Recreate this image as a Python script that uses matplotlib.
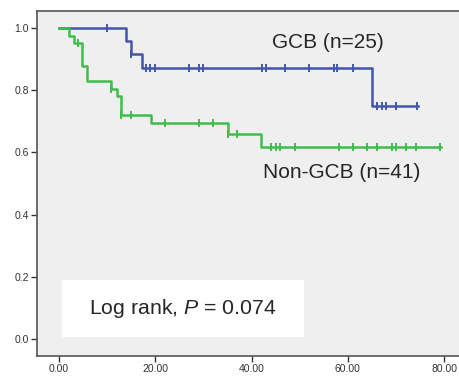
import numpy as np
import matplotlib.pyplot as plt
from matplotlib.patches import Rectangle

plt.rcParams['font.family'] = ['Liberation Sans', 'DejaVu Sans']
plt.rcParams['mathtext.fontset'] = 'custom'
plt.rcParams['mathtext.it'] = 'Liberation Sans:italic'
plt.rcParams['mathtext.rm'] = 'Liberation Sans'

# step curves (time, survival after the step)
gcb_times = [0.0, 13.9, 14.9, 17.2, 65.1, 74.5]
gcb_surv = [1.0, 0.958, 0.917, 0.873, 0.748, 0.748]
gcb_censor = [9.9, 14.9, 18.0, 19.0, 19.9, 27.0, 29.1, 29.9, 42.2, 42.9,
              47.0, 52.0, 57.2, 57.8, 61.1, 66.0, 67.0, 68.0, 70.0, 74.3]

ngcb_times = [0.0, 2.1, 3.1, 4.8, 5.9, 10.9, 12.0, 12.8, 19.1, 35.0, 42.0, 79.3]
ngcb_surv = [1.0, 0.975, 0.951, 0.878, 0.829, 0.805, 0.780, 0.722, 0.695,
             0.658, 0.618, 0.618]
ngcb_censor = [4.0, 10.9, 12.9, 15.0, 22.0, 29.1, 32.0, 35.0, 37.0, 44.1,
               45.0, 45.9, 49.0, 58.1, 61.1, 64.0, 66.0, 69.1, 70.0, 72.1,
               74.1, 79.2]

xticks = [0, 20, 40, 60, 80]
yticks = [0.0, 0.2, 0.4, 0.6, 0.8, 1.0]

blue = '#4257a8'
green = '#3dbe4b'

fig = plt.figure(figsize=(4.59, 3.76), dpi=100)
ax = fig.add_axes([37/459, 20/376, 1 - 37/459, 345/376])
ax.set_facecolor('#efefef')


def draw(times, surv, censor, color):
    ax.step(times, surv, where='post', color=color, lw=1.8, zorder=3)
    # censor marks sit on the step function
    idx = np.searchsorted(times, censor, side='right') - 1
    cy = np.array(surv)[idx]
    ax.plot(censor, cy, ls='none', marker='|', ms=6, mew=1.4,
            color=color, zorder=4)


draw(gcb_times, gcb_surv, gcb_censor, blue)
draw(ngcb_times, ngcb_surv, ngcb_censor, green)

ax.set_xlim(-4.57, 83.07)
ax.set_ylim(-0.055, 1.055)
ax.set_xticks(xticks)
ax.set_xticklabels(['%.2f' % t for t in xticks])
ax.set_yticks(yticks)
ax.set_yticklabels(['%.1f' % t for t in yticks])
ax.tick_params(labelsize=7.5, colors='#333333', length=4, width=1, pad=2)

for s in ['left', 'bottom', 'top']:
    ax.spines[s].set_color('#555555')
    ax.spines[s].set_linewidth(1.2)
ax.spines['right'].set_visible(False)

ax.text(55.8, 0.955, 'GCB (n=25)', ha='center', va='center',
        fontsize=15, color='#262626')
ax.text(58.7, 0.537, 'Non-GCB (n=41)', ha='center', va='center',
        fontsize=15, color='#262626')

ax.add_patch(Rectangle((0.0585, 0.056), 0.5745, 0.164, transform=ax.transAxes,
                       facecolor='white', edgecolor='none', zorder=2))
ax.text(0.3455, 0.138, 'Log rank, $\\it{P}$ = 0.074', transform=ax.transAxes,
        ha='center', va='center', fontsize=15.3, color='#262626', zorder=5)

fig.savefig('out.png', dpi=100)
